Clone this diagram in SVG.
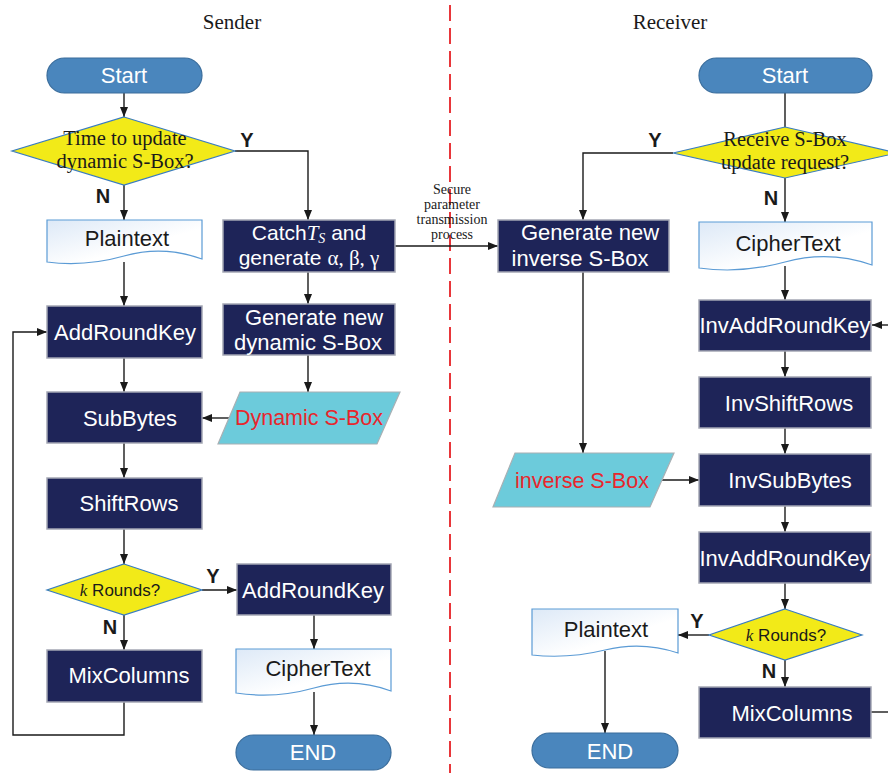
<svg xmlns="http://www.w3.org/2000/svg" width="888" height="773" viewBox="0 0 888 773">
<defs>
<marker id="ah" markerWidth="10" markerHeight="8" refX="10" refY="4" orient="auto" markerUnits="userSpaceOnUse">
<path d="M0,0 L10,4 L0,8 Z" fill="#1a1a1a"/>
</marker>
<linearGradient id="docg" x1="0" y1="0" x2="1" y2="1">
<stop offset="0" stop-color="#dde9f7"/>
<stop offset="0.6" stop-color="#ffffff"/>
</linearGradient>
</defs>
<style>
.term{fill:#4a86bd;stroke:#3a6d9c;stroke-width:1.2}
.proc{fill:#1e2458;stroke:#a4a6b4;stroke-width:1.5}
.dec{fill:#f2ea18;stroke:#3a7cbf;stroke-width:1.2}
.io{fill:#6ccbdb;stroke:#a8b0b4;stroke-width:1.2}
.doc{fill:url(#docg);stroke:#5b9bd5;stroke-width:1.2}
.wt{font-family:"Liberation Sans",Arial,sans-serif;font-size:22px;fill:#ffffff;text-anchor:middle}
.wc{font-family:"Liberation Sans",Arial,sans-serif;font-size:21px;fill:#ffffff;text-anchor:middle}
.bt{font-family:"Liberation Sans",Arial,sans-serif;font-size:22px;fill:#1a1a1a;text-anchor:middle}
.rt{font-family:"Liberation Sans",Arial,sans-serif;font-size:21.5px;fill:#e8262c;text-anchor:middle}
.st{font-family:"Liberation Serif","Times New Roman",serif;font-size:20.5px;fill:#1a1a1a;text-anchor:middle}
.tt{font-family:"Liberation Serif","Times New Roman",serif;font-size:21px;fill:#1a1a1a;text-anchor:middle}
.sm{font-family:"Liberation Serif","Times New Roman",serif;font-size:14px;fill:#1a1a1a;text-anchor:middle}
.yn{font-family:"Liberation Sans",Arial,sans-serif;font-size:20px;font-weight:bold;fill:#1a1a1a;text-anchor:middle}
.kr{font-family:"Liberation Sans",Arial,sans-serif;font-size:17px;fill:#1a1a1a;text-anchor:middle}
.it{font-family:"Liberation Serif","Times New Roman",serif;font-style:italic}
.gr{font-family:"Liberation Serif","Times New Roman",serif}
.c{fill:none;stroke:#1a1a1a;stroke-width:1.4}
.a{marker-end:url(#ah)}
</style>
<rect width="888" height="773" fill="#ffffff"/>

<line x1="450" y1="5" x2="450" y2="773" stroke="#e8363a" stroke-width="2" stroke-dasharray="16 7"/>
<text class="tt" x="232" y="29">Sender</text>
<text class="tt" x="670" y="29">Receiver</text>

<g id="connectors">
<path class="c a" d="M124,93 V117"/>
<path class="c a" d="M124,185 V220"/>
<path class="c a" d="M235,151 H308 V220"/>
<path class="c a" d="M124,262 V306"/>
<path class="c a" d="M308,272 V304"/>
<path class="c a" d="M395,246 H498"/>
<path class="c a" d="M308,355 V392"/>
<path class="c a" d="M232,418 H202"/>
<path class="c a" d="M124,358 V392"/>
<path class="c a" d="M124,443 V478"/>
<path class="c a" d="M124,529 V564"/>
<path class="c a" d="M202,590 H237"/>
<path class="c a" d="M124,615 V650"/>
<path class="c a" d="M124,702 V735 H13 V332 H47"/>
<path class="c a" d="M314,615 V649"/>
<path class="c a" d="M314,692 V735"/>
<path class="c" d="M785,93 V127"/>
<path class="c a" d="M673,153 H583 V220"/>
<path class="c a" d="M785,178 V222"/>
<path class="c a" d="M785,266 V300"/>
<path class="c a" d="M583,272 V453"/>
<path class="c a" d="M785,351 V377"/>
<path class="c a" d="M785,428 V454"/>
<path class="c a" d="M662,480 H699"/>
<path class="c a" d="M785,506 V532"/>
<path class="c a" d="M785,583 V609"/>
<path class="c a" d="M709,635 H678"/>
<path class="c a" d="M785,660 V687"/>
<path class="c a" d="M605,651 V733"/>
<path class="c" d="M871,712 H888"/>
<path class="c a" d="M888,325 H872"/>
<text class="sm" x="452" y="194">Secure</text>
<text class="sm" x="452" y="209">parameter</text>
<text class="sm" x="452" y="224">transmission</text>
<text class="sm" x="452" y="239">process</text>
<text class="yn" x="247" y="147">Y</text>
<text class="yn" x="103" y="203">N</text>
<text class="yn" x="655" y="147">Y</text>
<text class="yn" x="771" y="205">N</text>
<text class="yn" x="213" y="583">Y</text>
<text class="yn" x="110" y="634">N</text>
<text class="yn" x="697" y="628">Y</text>
<text class="yn" x="769" y="678">N</text>
</g>

<g id="start-s">
<rect class="term" x="47" y="58" width="155" height="35" rx="17.5"/>
<text class="wt" x="124" y="83">Start</text>
</g>
<g id="dec-update">
<path class="dec" d="M124,117 L235,151 L124,185 L12,151 Z"/>
<text class="st" x="125" y="145">Time to update</text>
<text class="st" x="125" y="168">dynamic S-Box?</text>
</g>
<g id="plaintext-s">
<path class="doc" d="M47,220 H202 V259 Q163,245 124,256 T47,262 Z"/>
<text class="bt" x="127" y="246">Plaintext</text>
</g>
<g id="catch">
<rect class="proc" x="223" y="220" width="172" height="52"/>
<text class="wc" x="309" y="240">Catch<tspan class="it">T<tspan font-size="14" dy="3">S</tspan></tspan><tspan dy="-3"> and</tspan></text>
<text class="wc" x="309" y="265">generate <tspan class="gr">α, β, γ</tspan></text>
</g>
<g id="addroundkey-s">
<rect class="proc" x="47" y="306" width="155" height="52"/>
<text class="wt" x="125" y="340">AddRoundKey</text>
</g>
<g id="gen-dyn">
<rect class="proc" x="223" y="304" width="172" height="51"/>
<text class="wt" x="314" y="325">Generate new</text>
<text class="wt" x="308" y="350">dynamic S-Box</text>
</g>
<g id="dyn-sbox">
<path class="io" d="M240,392 L400,392 L377,444 L218,444 Z"/>
<text class="rt" x="309" y="425">Dynamic S-Box</text>
</g>
<g id="subbytes">
<rect class="proc" x="47" y="392" width="155" height="51"/>
<text class="wt" x="130" y="426">SubBytes</text>
</g>
<g id="shiftrows">
<rect class="proc" x="47" y="478" width="155" height="51"/>
<text class="wt" x="129" y="511">ShiftRows</text>
</g>
<g id="dec-k-s">
<path class="dec" d="M124,564 L202,590 L124,615 L47,590 Z"/>
<text class="kr" x="120" y="596"><tspan class="it">k</tspan> Rounds?</text>
</g>
<g id="addroundkey-final">
<rect class="proc" x="237" y="564" width="154" height="51"/>
<text class="wt" x="313" y="598">AddRoundKey</text>
</g>
<g id="mixcolumns-s">
<rect class="proc" x="47" y="650" width="155" height="52"/>
<text class="wt" x="129" y="683">MixColumns</text>
</g>
<g id="ciphertext-s">
<path class="doc" d="M236,649 H391 V691 Q353,677 314,688 T236,693 Z"/>
<text class="bt" x="318" y="676">CipherText</text>
</g>
<g id="end-s">
<rect class="term" x="236" y="735" width="155" height="35" rx="17.5"/>
<text class="wt" x="313" y="760">END</text>
</g>

<g id="start-r">
<rect class="term" x="699" y="58" width="173" height="35" rx="17.5"/>
<text class="wt" x="785" y="83">Start</text>
</g>
<g id="dec-receive">
<path class="dec" d="M785,127 L897,153 L785,178 L673,153 Z"/>
<text class="st" x="785" y="146">Receive S-Box</text>
<text class="st" x="785" y="169">update request?</text>
</g>
<g id="gen-inv">
<rect class="proc" x="498" y="220" width="171" height="52"/>
<text class="wt" x="590" y="240">Generate new</text>
<text class="wt" x="580" y="266">inverse S-Box</text>
</g>
<g id="ciphertext-r">
<path class="doc" d="M699,222 H872 V265 Q829,250 785,262 T699,268 Z"/>
<text class="bt" x="788" y="251">CipherText</text>
</g>
<g id="invaddroundkey-1">
<rect class="proc" x="699" y="300" width="172" height="51"/>
<text class="wt" x="785" y="333">InvAddRoundKey</text>
</g>
<g id="invshiftrows">
<rect class="proc" x="699" y="377" width="172" height="51"/>
<text class="wt" x="789" y="411">InvShiftRows</text>
</g>
<g id="inv-sbox">
<path class="io" d="M515,453 L674,453 L650,507 L493,507 Z"/>
<text class="rt" x="582" y="488">inverse S-Box</text>
</g>
<g id="invsubbytes">
<rect class="proc" x="699" y="454" width="172" height="52"/>
<text class="wt" x="790" y="488">InvSubBytes</text>
</g>
<g id="invaddroundkey-2">
<rect class="proc" x="699" y="532" width="172" height="51"/>
<text class="wt" x="785" y="566">InvAddRoundKey</text>
</g>
<g id="dec-k-r">
<path class="dec" d="M785,609 L862,635 L785,660 L709,635 Z"/>
<text class="kr" x="786" y="641"><tspan class="it">k</tspan> Rounds?</text>
</g>
<g id="plaintext-r">
<path class="doc" d="M532,609 H678 V653 Q642,641 605,650 T532,655 Z"/>
<text class="bt" x="606" y="637">Plaintext</text>
</g>
<g id="mixcolumns-r">
<rect class="proc" x="699" y="687" width="172" height="51"/>
<text class="wt" x="792" y="721">MixColumns</text>
</g>
<g id="end-r">
<rect class="term" x="532" y="733" width="146" height="35" rx="17.5"/>
<text class="wt" x="610" y="759">END</text>
</g>
</svg>
